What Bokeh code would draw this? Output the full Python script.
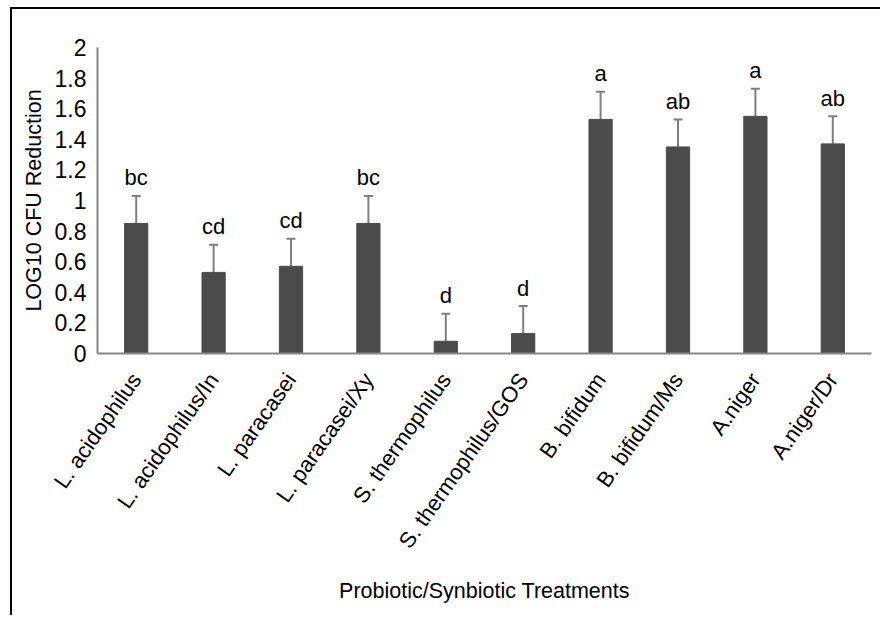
import math
from bokeh.plotting import figure
from bokeh.models import FactorRange, Range1d, ColumnDataSource, Whisker, TeeHead, FixedTicker
from bokeh.core.properties import value
from bokeh.embed import file_html
from bokeh.resources import INLINE

categories = ["L. acidophilus", "L. acidophilus/In", "L. paracasei", "L. paracasei/Xy",
              "S. thermophilus", "S. thermophilus/GOS", "B. bifidum", "B. bifidum/Ms",
              "A.niger", "A.niger/Dr"]
means = [0.85, 0.53, 0.57, 0.85, 0.08, 0.13, 1.53, 1.35, 1.55, 1.37]
errors = [0.18, 0.18, 0.18, 0.18, 0.18, 0.18, 0.18, 0.18, 0.18, 0.18]
letters = ["bc", "cd", "cd", "bc", "d", "d", "a", "ab", "a", "ab"]
y_ticks = [0, 0.2, 0.4, 0.6, 0.8, 1, 1.2, 1.4, 1.6, 1.8, 2]
y_tick_labels = ["0", "0.2", "0.4", "0.6", "0.8", "1", "1.2", "1.4", "1.6", "1.8", "2"]

FONT = "Liberation Sans"

src = ColumnDataSource(dict(
    cat=categories, mean=means,
    upper=[m + e for m, e in zip(means, errors)],
    lower=[m - e for m, e in zip(means, errors)],
    letter=letters,
))

p = figure(x_range=FactorRange(*categories, range_padding=0), y_range=Range1d(0, 2),
           width=870, height=608, output_backend="svg", toolbar_location=None,
           min_border_left=85, min_border_right=11, min_border_top=38, min_border_bottom=264)
p.styles = {"margin-left": "10px", "margin-top": "7px",
            "border-left": "2px solid black", "border-top": "2px solid black"}

p.vbar(x="cat", top="mean", bottom=0, width=0.3, source=src,
       fill_color="#4b4b4b", line_color="#4b4b4b")

w = Whisker(base="cat", upper="upper", lower="lower", source=src,
            line_color="#7f7f7f", line_width=2,
            upper_head=TeeHead(size=9, line_color="#7f7f7f", line_width=2),
            lower_head=TeeHead(size=9, line_color="#7f7f7f", line_width=2))
p.add_layout(w)

p.text(x="cat", y="upper", text="letter", source=src, text_align="center",
       text_baseline="alphabetic", y_offset=-18, text_font=value(FONT),
       text_font_size="22px", text_color="black")

p.xgrid.grid_line_color = None
p.ygrid.grid_line_color = None
p.outline_line_color = None

for ax in (p.xaxis[0], p.yaxis[0]):
    ax.axis_line_color = "#868686"
    ax.axis_line_width = 2
    ax.major_tick_line_color = None
    ax.minor_tick_line_color = None
    ax.major_tick_out = 0
    ax.major_tick_in = 0
    ax.minor_tick_out = 0
    ax.major_label_text_font = FONT
    ax.major_label_text_font_size = "22px"
    ax.major_label_text_color = "black"
    ax.axis_label_text_font = FONT
    ax.axis_label_text_font_size = "21.5px"
    ax.axis_label_text_font_style = "normal"
    ax.axis_label_text_color = "black"

p.yaxis.ticker = FixedTicker(ticks=y_ticks)
p.yaxis.major_label_overrides = dict(zip(y_ticks, y_tick_labels))
p.yaxis.major_label_text_font_size = "23px"
p.yaxis.axis_label = "LOG10 CFU Reduction"
p.yaxis.major_label_standoff = 11
p.yaxis.axis_label_standoff = 6

p.xaxis.axis_label = "Probiotic/Synbiotic Treatments"
p.xaxis.major_label_orientation = 55 * math.pi / 180
p.xaxis.major_label_standoff = 22
p.xaxis.axis_label_standoff = 16

open("out.html", "w").write(file_html(p, INLINE))
